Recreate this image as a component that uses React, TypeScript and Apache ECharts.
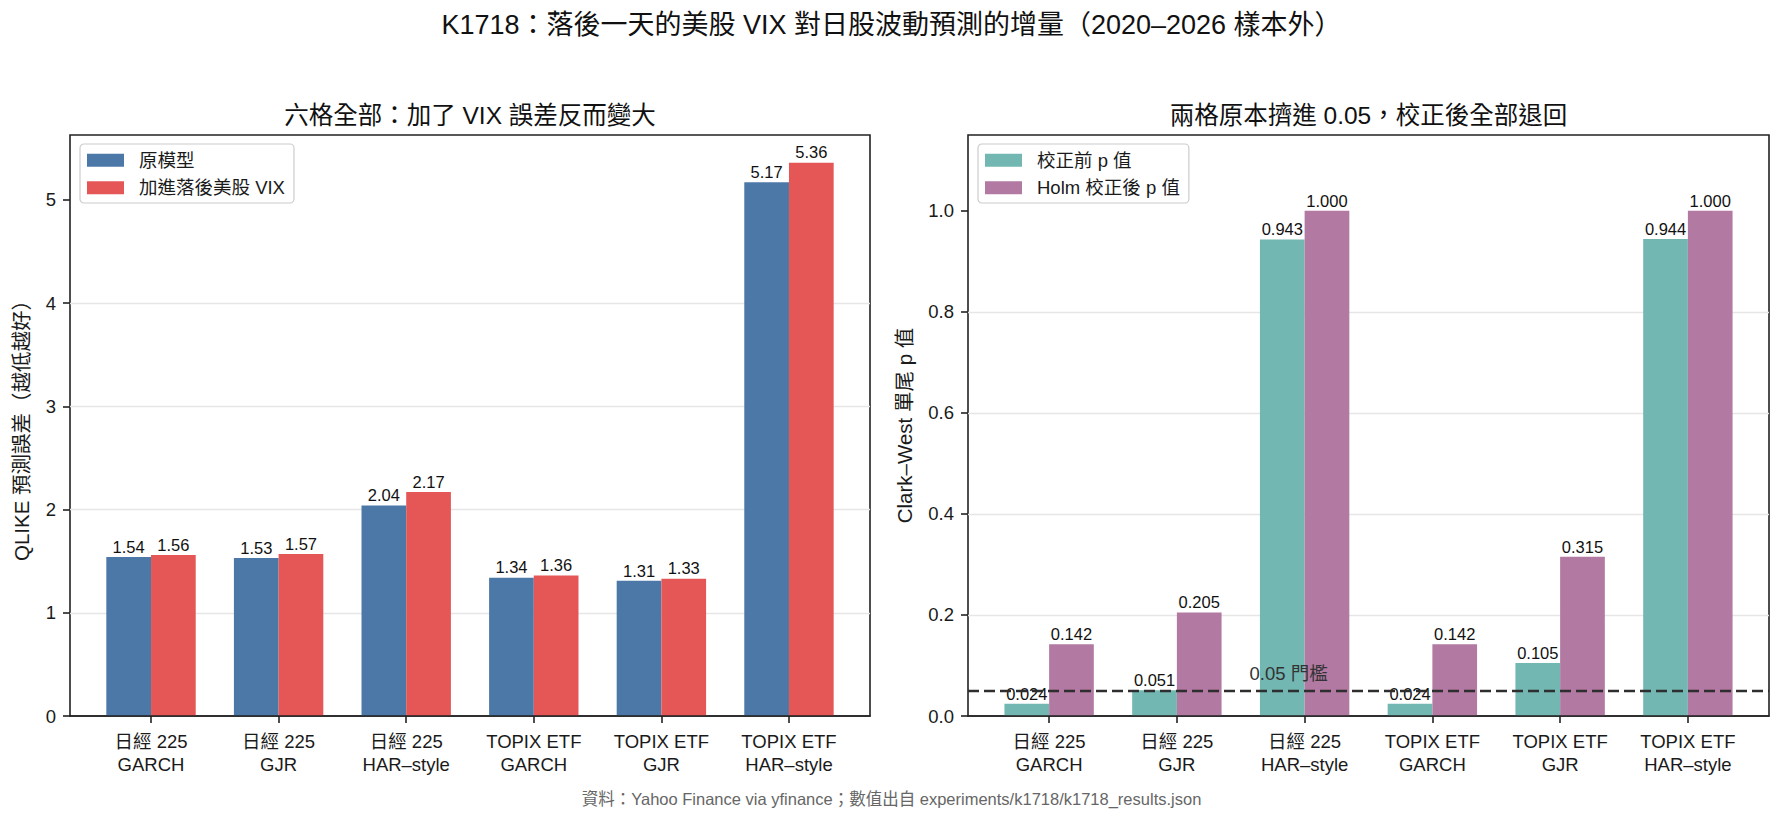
import React, { useEffect, useRef } from "react";
import * as echarts from "echarts";

// Mixed Latin / CJK font stack
const FONT = "'Liberation Sans', 'Noto Sans CJK TC', 'Noto Sans CJK SC', sans-serif";

// Six market × model cells
const markets = ["日經 225", "日經 225", "日經 225", "TOPIX ETF", "TOPIX ETF", "TOPIX ETF"];
const models = ["GARCH", "GJR", "HAR–style", "GARCH", "GJR", "HAR–style"];
const categories = markets.map((m, i) => `${m}\n${models[i]}`);

// QLIKE forecast loss (lower is better)
const qlikeBase = [1.54, 1.53, 2.04, 1.34, 1.31, 5.17];
const qlikeWithVix = [1.56, 1.57, 2.17, 1.36, 1.33, 5.36];

// Clark–West one-sided p-values
const pRaw = [0.024, 0.051, 0.943, 0.024, 0.105, 0.944];
const pHolm = [0.142, 0.205, 1.0, 0.142, 0.315, 1.0];

const leftTicks = [0, 1, 2, 3, 4, 5];
const rightTicks = [0, 0.2, 0.4, 0.6, 0.8, 1.0];
const THRESHOLD = 0.05;

const LEFT_MAX = Math.max(...qlikeWithVix, ...qlikeBase) * 1.05;
const RIGHT_MAX = 1.15;

// matplotlib-like x extent around six category slots
const X_MIN = -0.635;
const X_MAX = 5.635;

const INK = "#222222";
const SPINE_W = 1.6;

function frameGrid(left: number, width: number) {
  return {
    left,
    top: 135,
    width,
    height: 581,
    show: true,
    borderColor: INK,
    borderWidth: SPINE_W,
    backgroundColor: "transparent",
  };
}

function frameX(gridIndex: number) {
  return {
    type: "value",
    gridIndex,
    min: X_MIN,
    max: X_MAX,
    z: 10,
    axisLine: { show: true, onZero: false, lineStyle: { color: INK, width: SPINE_W } },
    axisTick: { show: false },
    axisLabel: { show: false },
    splitLine: { show: false },
  };
}

function catX(gridIndex: number) {
  return {
    type: "category",
    gridIndex,
    data: categories,
    axisLine: { show: false, onZero: false },
    axisTick: {
      show: true,
      alignWithLabel: true,
      length: 7,
      lineStyle: { color: INK, width: SPINE_W },
    },
    axisLabel: {
      margin: 14,
      fontSize: 18.5,
      lineHeight: 23,
      color: "#1a1a1a",
      fontFamily: FONT,
      interval: 0,
    },
  };
}

const near = (v: number, list: number[]) => list.some((t) => Math.abs(t - v) < 1e-9);

function frameY(
  gridIndex: number,
  max: number,
  interval: number,
  ticks: number[],
  digits: number,
  name: string,
  nameGap: number
) {
  return {
    type: "value",
    gridIndex,
    min: 0,
    max,
    interval,
    name,
    nameLocation: "middle",
    nameRotate: 90,
    nameGap,
    nameTextStyle: { fontSize: 20.5, color: "#1a1a1a", fontFamily: FONT },
    axisLine: { show: false, onZero: false },
    axisTick: {
      show: true,
      length: 7,
      customValues: ticks,
      lineStyle: { color: INK, width: SPINE_W },
    },
    axisLabel: {
      margin: 14,
      fontSize: 18.5,
      color: "#1a1a1a",
      fontFamily: FONT,
      showMaxLabel: true,
      formatter: (v: number) => (near(v, ticks) ? v.toFixed(digits) : ""),
    },
    splitLine: {
      show: true,
      showMinLine: false,
      showMaxLine: false,
      lineStyle: { color: "#e6e6e6", width: 1.3 },
    },
  };
}

function hiddenY(gridIndex: number, max: number) {
  return { type: "value", gridIndex, min: 0, max, show: false, splitLine: { show: false } };
}

function barSeries(
  name: string,
  data: number[],
  color: string,
  axisIndex: number,
  digits: number
) {
  return {
    type: "bar",
    name,
    data,
    xAxisIndex: axisIndex,
    yAxisIndex: axisIndex,
    barWidth: 44.7,
    barGap: "0%",
    itemStyle: { color },
    z: 2,
    label: {
      show: true,
      position: "top",
      distance: 2,
      fontSize: 16.5,
      color: "#111111",
      fontFamily: FONT,
      formatter: (p: any) => Number(p.value).toFixed(digits),
    },
  };
}

function legendBox(left: number, names: string[]) {
  return {
    orient: "vertical",
    left,
    top: 144,
    data: names,
    icon: "rect",
    itemWidth: 37,
    itemHeight: 13,
    itemGap: 9,
    padding: [7, 9, 6, 7],
    backgroundColor: "rgba(255,255,255,0.85)",
    borderColor: "#cccccc",
    borderWidth: 1.2,
    borderRadius: 4,
    textStyle: {
      fontSize: 18.5,
      color: "#1a1a1a",
      fontFamily: FONT,
      padding: [0, 0, 0, 10],
    },
    selectedMode: false,
  };
}

export default function App() {
  const ref = useRef<HTMLDivElement>(null);

  useEffect(() => {
    if (!ref.current) return;
    const chart = echarts.init(ref.current, undefined, { renderer: "svg" });

    const leftFrame = { left: 70, width: 800 };
    const rightFrame = { left: 968, width: 801 };
    const slot = (w: number) => w / (X_MAX - X_MIN);
    const inner = (f: { left: number; width: number }) => ({
      left: f.left + slot(f.width) * (-0.5 - X_MIN),
      top: 135,
      width: slot(f.width) * 6,
      height: 581,
    });

    const option: any = {
      animation: false,
      backgroundColor: "#ffffff",
      textStyle: { fontFamily: FONT },
      title: [
        {
          text: "K1718：落後一天的美股 VIX 對日股波動預測的增量（2020–2026 樣本外）",
          left: "center",
          top: 11,
          padding: 0,
          textStyle: { fontSize: 27, fontWeight: "normal", color: "#111111", fontFamily: FONT },
        },
        {
          text: "六格全部：加了 VIX 誤差反而變大",
          left: leftFrame.left + leftFrame.width / 2,
          textAlign: "center",
          top: 103,
          padding: 0,
          textStyle: { fontSize: 24.5, fontWeight: "normal", color: "#111111", fontFamily: FONT },
        },
        {
          text: "兩格原本擠進 0.05，校正後全部退回",
          left: rightFrame.left + rightFrame.width / 2,
          textAlign: "center",
          top: 103,
          padding: 0,
          textStyle: { fontSize: 24.5, fontWeight: "normal", color: "#111111", fontFamily: FONT },
        },
        {
          text: "資料：Yahoo Finance via yfinance；數值出自 experiments/k1718/k1718_results.json",
          left: "center",
          top: 791,
          padding: 0,
          textStyle: { fontSize: 16.5, fontWeight: "normal", color: "#666666", fontFamily: FONT },
        },
      ],
      legend: [
        legendBox(80, ["原模型", "加進落後美股 VIX"]),
        legendBox(978, ["校正前 p 值", "Holm 校正後 p 值"]),
      ],
      grid: [
        frameGrid(leftFrame.left, leftFrame.width),
        inner(leftFrame),
        frameGrid(rightFrame.left, rightFrame.width),
        inner(rightFrame),
      ],
      xAxis: [frameX(0), catX(1), frameX(2), catX(3)],
      yAxis: [
        frameY(0, LEFT_MAX, 1, leftTicks, 0, "QLIKE 預測誤差（越低越好）", 38),
        hiddenY(1, LEFT_MAX),
        frameY(2, RIGHT_MAX, 0.2, rightTicks, 1, "Clark–West 單尾 p 值", 53),
        hiddenY(3, RIGHT_MAX),
      ],
      series: [
        barSeries("原模型", qlikeBase, "#4C78A8", 1, 2),
        barSeries("加進落後美股 VIX", qlikeWithVix, "#E45756", 1, 2),
        barSeries("校正前 p 值", pRaw, "#72B7B2", 3, 3),
        barSeries("Holm 校正後 p 值", pHolm, "#B279A2", 3, 3),
        {
          type: "line",
          name: "threshold",
          xAxisIndex: 2,
          yAxisIndex: 2,
          data: [],
          z: 10,
          silent: true,
          markLine: {
            silent: true,
            symbol: ["none", "none"],
            label: { show: false },
            lineStyle: { type: [11, 5], width: 2.4, color: "#2e2e2e" },
            data: [{ yAxis: THRESHOLD }],
          },
          markPoint: {
            silent: true,
            symbol: "rect",
            symbolSize: 1,
            itemStyle: { color: "rgba(0,0,0,0)" },
            label: {
              show: true,
              position: "inside",
              formatter: `${THRESHOLD.toFixed(2)} 門檻`,
              fontSize: 18.5,
              color: "#333333",
              fontFamily: FONT,
            },
            data: [{ coord: [1.875, 0.085] }],
          },
        },
      ],
    };

    chart.setOption(option);
    return () => chart.dispose();
  }, []);

  return (
    <div
      ref={ref}
      style={{ position: "fixed", left: 0, top: 0, width: 1783, height: 822, background: "#fff" }}
    />
  );
}
